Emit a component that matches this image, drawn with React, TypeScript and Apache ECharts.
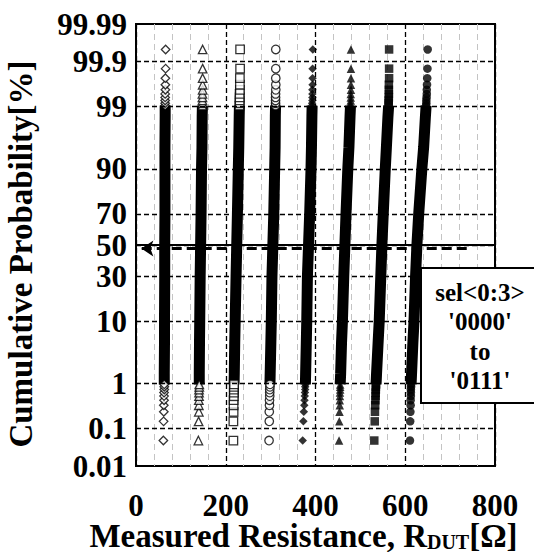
import React, { useEffect, useRef } from "react";
import * as echarts from "echarts";

// ---- Data ----
// cumulative probability levels (%) at which resistances are read
const probs = [
  0.05, 0.15, 0.25, 0.35, 0.45, 0.55, 0.65, 0.75, 0.85, 0.95,
  1.5, 5, 10, 30, 50, 70, 90, 95, 98.5,
  99.05, 99.15, 99.25, 99.35, 99.45, 99.55, 99.65, 99.75, 99.85, 99.95,
];
const tailCount = 10; // individually visible points at each end

const sel0000 = [61, 61.5, 62, 62, 62.5, 62.5, 62.5, 63, 63, 63, 63, 63.5, 63.5, 64, 64, 64.5, 64.5, 64.5, 65, 65, 65, 65, 65, 65, 65.5, 65.5, 65.5, 66, 66];
const sel0001 = [139, 139.5, 140, 140, 140, 140.5, 140.5, 140.5, 141, 141, 141, 141.5, 142, 143, 144, 145, 146, 147, 147.5, 148, 148, 148, 148, 148, 148.5, 148.5, 148.5, 148.5, 148.5];
const sel0010 = [217, 217, 217.5, 217.5, 217.5, 218, 218, 218, 218, 218.5, 219, 220, 221, 223, 224.5, 226, 228, 229, 230, 230.5, 231, 231, 231, 231, 231.5, 231.5, 231.5, 232, 232];
const sel0011 = [296.5, 297, 297, 297.5, 297.5, 298, 298, 298, 298.5, 298.5, 299, 300.5, 301.5, 303, 305, 307, 309, 310, 310.5, 311, 311, 311, 311, 311, 311.5, 311.5, 311.5, 311.5, 311.5];
const sel0100 = [371.5, 373, 374, 375, 375.5, 376, 376.5, 377, 377, 377.5, 378, 379.5, 380.5, 382, 384.5, 387, 390, 391, 392, 392.5, 392.5, 393, 393, 393, 393, 393.5, 393.5, 393.5, 394];
const sel0101 = [452.5, 453, 453.5, 454, 454, 454.5, 454.5, 455, 455, 455, 456, 458, 460, 463, 465.5, 468, 472, 474.5, 477, 478, 478, 478.5, 478.5, 478.5, 479, 479, 479, 479, 479];
const sel0110 = [531, 532, 532.5, 533, 533.5, 534, 534, 534.5, 534.5, 535, 536, 539.5, 542, 545.5, 548, 551, 555.5, 558, 561.5, 563, 563, 563, 563.5, 563.5, 563.5, 563.5, 564, 564, 564];
const sel0111 = [610.5, 611, 611.5, 612, 612, 612.5, 612.5, 612.5, 613, 613, 614, 617, 619.5, 623, 626, 630, 637, 641, 645, 646.5, 647, 647, 647.5, 648, 648, 648.5, 649, 649.5, 650];

const seriesNames = ["'0000'", "'0001'", "'0010'", "'0011'", "'0100'", "'0101'", "'0110'", "'0111'"];
const seriesValues = [sel0000, sel0001, sel0010, sel0011, sel0100, sel0101, sel0110, sel0111];
const seriesSymbols = ["diamond", "triangle", "rect", "circle", "diamond", "triangle", "rect", "circle"];
const seriesHollow = [true, true, true, true, false, false, false, false];

const yTickProbs = [0.01, 0.1, 1, 10, 30, 50, 70, 90, 99, 99.9, 99.99];
const yTickLabels = ["0.01", "0.1", "1", "10", "30", "50", "70", "90", "99", "99.9", "99.99"];
const yGridProbs = [0.1, 1, 10, 30, 50, 70, 90, 99, 99.9];

const arrowProb = 47.6;
const arrowFrom = 737;
const arrowTo = 12;

const boxLines = ["sel<0:3>", "'0000'", "to", "'0111'"];

// inverse standard normal CDF (probit) - axis transform
function probit(p: number): number {
  const a = [-3.969683028665376e1, 2.209460984245205e2, -2.759285104469687e2, 1.38357751867269e2, -3.066479806614716e1, 2.506628277459239];
  const b = [-5.447609879822406e1, 1.615858368580409e2, -1.556989798598866e2, 6.680131188771972e1, -1.328068155288572e1];
  const c = [-7.784894002430293e-3, -3.223964580411365e-1, -2.400758277161838, -2.549671792213451, 4.374664141464968, 2.938163982698783];
  const d = [7.784695709041462e-3, 3.224671290700398e-1, 2.445134137142996, 3.754408661907416];
  const plow = 0.02425;
  if (p < plow) {
    const q = Math.sqrt(-2 * Math.log(p));
    return (((((c[0] * q + c[1]) * q + c[2]) * q + c[3]) * q + c[4]) * q + c[5]) / ((((d[0] * q + d[1]) * q + d[2]) * q + d[3]) * q + 1);
  }
  if (p > 1 - plow) {
    const q = Math.sqrt(-2 * Math.log(1 - p));
    return -(((((c[0] * q + c[1]) * q + c[2]) * q + c[3]) * q + c[4]) * q + c[5]) / ((((d[0] * q + d[1]) * q + d[2]) * q + d[3]) * q + 1);
  }
  const q = p - 0.5;
  const r = q * q;
  return ((((((a[0] * r + a[1]) * r + a[2]) * r + a[3]) * r + a[4]) * r + a[5]) * q) / (((((b[0] * r + b[1]) * r + b[2]) * r + b[3]) * r + b[4]) * r + 1);
}

const FONT = '"Liberation Serif", "Times New Roman", serif';

export default function App() {
  const ref = useRef<HTMLDivElement>(null);

  useEffect(() => {
    if (!ref.current) return;
    const chart = echarts.init(ref.current, undefined, { renderer: "svg" });

    const zTicks = yTickProbs.map((p) => probit(p / 100));
    const zMin = zTicks[0];
    const zMax = zTicks[zTicks.length - 1];

    const series: any[] = [];
    // gridlines holder
    series.push({
      type: "line",
      data: [],
      z: 1,
      silent: true,
      markLine: {
        silent: true,
        symbol: "none",
        label: { show: false },
        lineStyle: { color: "#000", type: [5, 3], width: 1.3 },
        data: yGridProbs.map((p) => ({ yAxis: probit(p / 100) })),
      },
    });

    seriesValues.forEach((vals, i) => {
      const pts = probs.map((p, j) => [vals[j], probit(p / 100)]);
      const core = pts.slice(tailCount - 1, probs.length - tailCount + 1);
      const tails = [...pts.slice(0, tailCount), ...pts.slice(probs.length - tailCount)];
      series.push({
        name: seriesNames[i],
        type: "line",
        data: core,
        showSymbol: false,
        symbol: "none",
        silent: true,
        z: 3,
        lineStyle: { color: "#000", width: 11, cap: "butt" },
      });
      series.push({
        name: seriesNames[i],
        type: "scatter",
        data: tails,
        symbol: seriesSymbols[i],
        symbolSize: 8.5,
        silent: true,
        z: 4,
        itemStyle: seriesHollow[i]
          ? { color: "#fff", borderColor: "#000", borderWidth: 1.3 }
          : { color: "#000", borderWidth: 0 },
      });
    });

    // 50% arrow
    series.push({
      type: "line",
      data: [],
      z: 6,
      silent: true,
      markLine: {
        silent: true,
        symbol: ["none", "arrow"],
        symbolSize: 12,
        label: { show: false },
        lineStyle: { color: "#000", type: [10, 5], width: 3 },
        data: [[{ coord: [arrowFrom, probit(arrowProb / 100)] }, { coord: [arrowTo, probit(arrowProb / 100)] }]],
      },
    });

    chart.setOption({
      animation: false,
      backgroundColor: "#fff",
      grid: {
        left: 136,
        top: 24,
        width: 359,
        height: 442,
        show: true,
        borderColor: "#000",
        borderWidth: 2,
        backgroundColor: "transparent",
        containLabel: false,
        outerBoundsMode: "none",
      },
      xAxis: {
        type: "value",
        min: 0,
        max: 800,
        interval: 200,
        name: "Measured Resistance, R{sub|DUT}[Ω]",
        nameLocation: "middle",
        nameGap: 53,
        nameMoveOverlap: false,
        nameTextStyle: {
          color: "#000",
          fontSize: 33,
          fontWeight: "bold",
          fontFamily: FONT,
          padding: [0, 24, 0, 0],
          rich: {
            sub: { fontSize: 20, fontWeight: "bold", fontFamily: FONT, color: "#000", verticalAlign: "bottom", lineHeight: 19 },
          },
        },
        axisLine: { show: true, lineStyle: { color: "#000", width: 2 } },
        axisTick: { show: false },
        axisLabel: { color: "#000", fontSize: 31, lineHeight: 24, fontWeight: "bold", fontFamily: FONT, margin: 27.5 },
        splitLine: { show: true, lineStyle: { color: "#000", type: [5, 3], width: 1.3 } },
        minorTick: { show: false, splitNumber: 5 },
        minorSplitLine: { show: true, lineStyle: { color: "#c4c4c4", type: [6, 4], width: 1 } },
      },
      yAxis: {
        type: "value",
        min: zMin,
        max: zMax,
        name: "Cumulative Probability[%]",
        nameLocation: "middle",
        nameGap: 99,
        nameTextStyle: { color: "#000", fontSize: 33, fontWeight: "bold", fontFamily: FONT, padding: [0, 18, 0, 0] },
        axisLine: { show: true, lineStyle: { color: "#000", width: 2 } },
        axisTick: { show: false },
        splitLine: { show: false },
        axisLabel: {
          color: "#000",
          fontSize: 31,
          lineHeight: 26,
          fontWeight: "bold",
          fontFamily: FONT,
          margin: 9,
          showMinLabel: true,
          showMaxLabel: true,
          customValues: zTicks,
          formatter: (v: number) => {
            const k = zTicks.findIndex((z) => Math.abs(z - v) < 1e-3);
            return k >= 0 ? yTickLabels[k] : "";
          },
        },
      },
      series,
      graphic: [
        {
          type: "rect",
          z: 20,
          shape: { x: 421, y: 268, width: 125, height: 135 },
          style: { fill: "#fff", stroke: "#000", lineWidth: 2 },
        },
        ...boxLines.map((t, i) => ({
          type: "text",
          z: 21,
          x: 480,
          y: 292 + i * 29.5,
          style: {
            text: t,
            fill: "#000",
            fontSize: 25,
            fontWeight: "bold",
            fontFamily: FONT,
            align: "center",
            verticalAlign: "middle",
          },
        })),
      ],
    });

    return () => chart.dispose();
  }, []);

  return <div ref={ref} style={{ position: "fixed", left: 0, top: 0, width: 534, height: 552 }} />;
}
